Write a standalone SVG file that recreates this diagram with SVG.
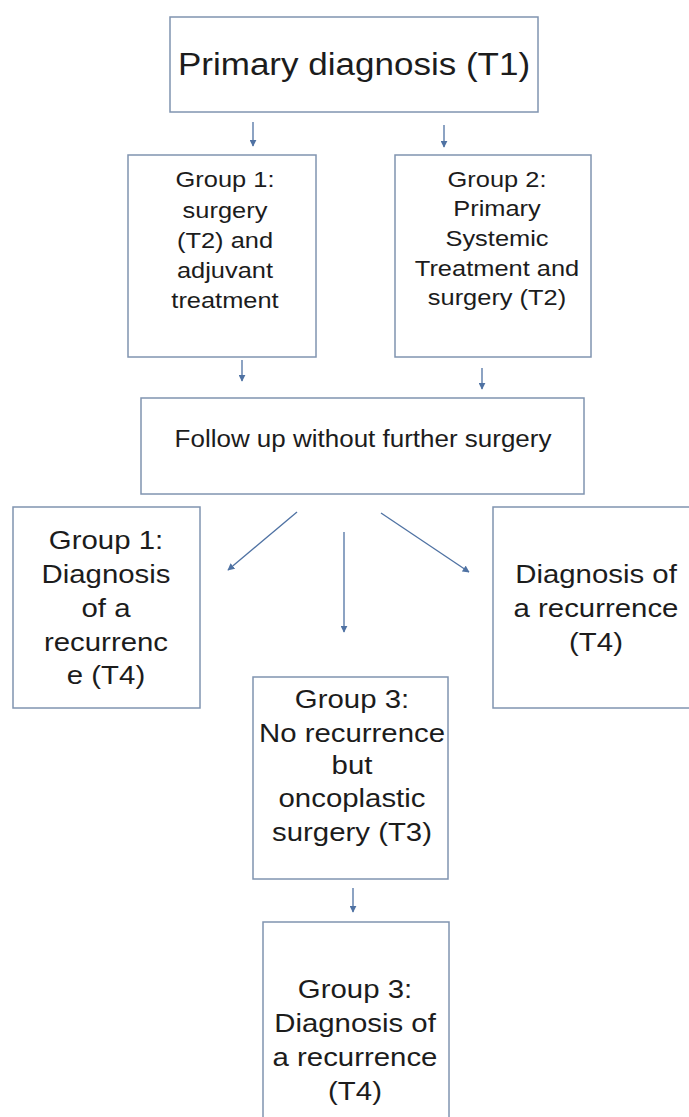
<svg xmlns="http://www.w3.org/2000/svg" width="689" height="1117" viewBox="0 0 689 1117">
<defs>
<style>
.box{fill:#fff;stroke:#8094b0;stroke-width:1.5}
.t{font-family:"Liberation Sans",Arial,sans-serif;fill:#1c1c1c;text-anchor:middle}
.c{stroke:#4f72a3;stroke-width:1.3;fill:none;marker-end:url(#ah)}
</style>
<marker id="ah" viewBox="0 0 10 10" refX="9" refY="5" markerWidth="7" markerHeight="7" markerUnits="userSpaceOnUse" orient="auto">
<path d="M0,0 L10,5 L0,10 z" fill="#4f72a3"/>
</marker>
</defs>
<rect width="689" height="1117" fill="#fff"/>
<g id="n-primary">
<rect class="box" x="170" y="17" width="368" height="95"/>
<text class="t" font-size="31" transform="translate(354 75) scale(1.13 1)">Primary diagnosis (T1)</text>
</g>
<g id="n-group1">
<rect class="box" x="128" y="155" width="188" height="202"/>
<text class="t" font-size="22.5" transform="translate(225 0) scale(1.13 1)"><tspan x="0" y="187">Group 1:</tspan><tspan x="0" y="218">surgery</tspan><tspan x="0" y="248">(T2) and</tspan><tspan x="0" y="278">adjuvant</tspan><tspan x="0" y="308">treatment</tspan></text>
</g>
<g id="n-group2">
<rect class="box" x="395" y="155" width="196" height="202"/>
<text class="t" font-size="22.5" transform="translate(497 0) scale(1.13 1)"><tspan x="0" y="187">Group 2:</tspan><tspan x="0" y="216">Primary</tspan><tspan x="0" y="246">Systemic</tspan><tspan x="0" y="276">Treatment and</tspan><tspan x="0" y="305">surgery (T2)</tspan></text>
</g>
<g id="n-followup">
<rect class="box" x="141" y="398" width="443" height="96"/>
<text class="t" font-size="23" transform="translate(363 447) scale(1.13 1)">Follow up without further surgery</text>
</g>
<g id="n-g1-recurrence">
<rect class="box" x="13" y="507" width="187" height="201"/>
<text class="t" font-size="26" transform="translate(106 0) scale(1.13 1)"><tspan x="0" y="549">Group 1:</tspan><tspan x="0" y="583">Diagnosis</tspan><tspan x="0" y="617">of a</tspan><tspan x="0" y="651">recurrenc</tspan><tspan x="0" y="684">e (T4)</tspan></text>
</g>
<g id="n-recurrence">
<rect class="box" x="493" y="507" width="200" height="201"/>
<text class="t" font-size="26" transform="translate(596 0) scale(1.13 1)"><tspan x="0" y="583">Diagnosis of</tspan><tspan x="0" y="617">a recurrence</tspan><tspan x="0" y="651">(T4)</tspan></text>
</g>
<g id="n-group3">
<rect class="box" x="253" y="677" width="195" height="202"/>
<text class="t" font-size="26" transform="translate(352 0) scale(1.13 1)"><tspan x="0" y="708">Group 3:</tspan><tspan x="0" y="742">No recurrence</tspan><tspan x="0" y="774">but</tspan><tspan x="0" y="807">oncoplastic</tspan><tspan x="0" y="841">surgery (T3)</tspan></text>
</g>
<g id="n-g3-recurrence">
<rect class="box" x="263" y="922" width="186" height="210"/>
<text class="t" font-size="26" transform="translate(355 0) scale(1.13 1)"><tspan x="0" y="998">Group 3:</tspan><tspan x="0" y="1032">Diagnosis of</tspan><tspan x="0" y="1066">a recurrence</tspan><tspan x="0" y="1100">(T4)</tspan></text>
</g>
<g id="connectors">
<line class="c" x1="253" y1="122" x2="253" y2="146"/>
<line class="c" x1="444" y1="125" x2="444" y2="147"/>
<line class="c" x1="242" y1="360" x2="242" y2="381"/>
<line class="c" x1="482" y1="368" x2="482" y2="389"/>
<line class="c" x1="297" y1="512" x2="228" y2="570"/>
<line class="c" x1="344" y1="532" x2="344" y2="632"/>
<line class="c" x1="381" y1="513" x2="469" y2="572"/>
<line class="c" x1="353" y1="888" x2="353" y2="912"/>
</g>
</svg>
